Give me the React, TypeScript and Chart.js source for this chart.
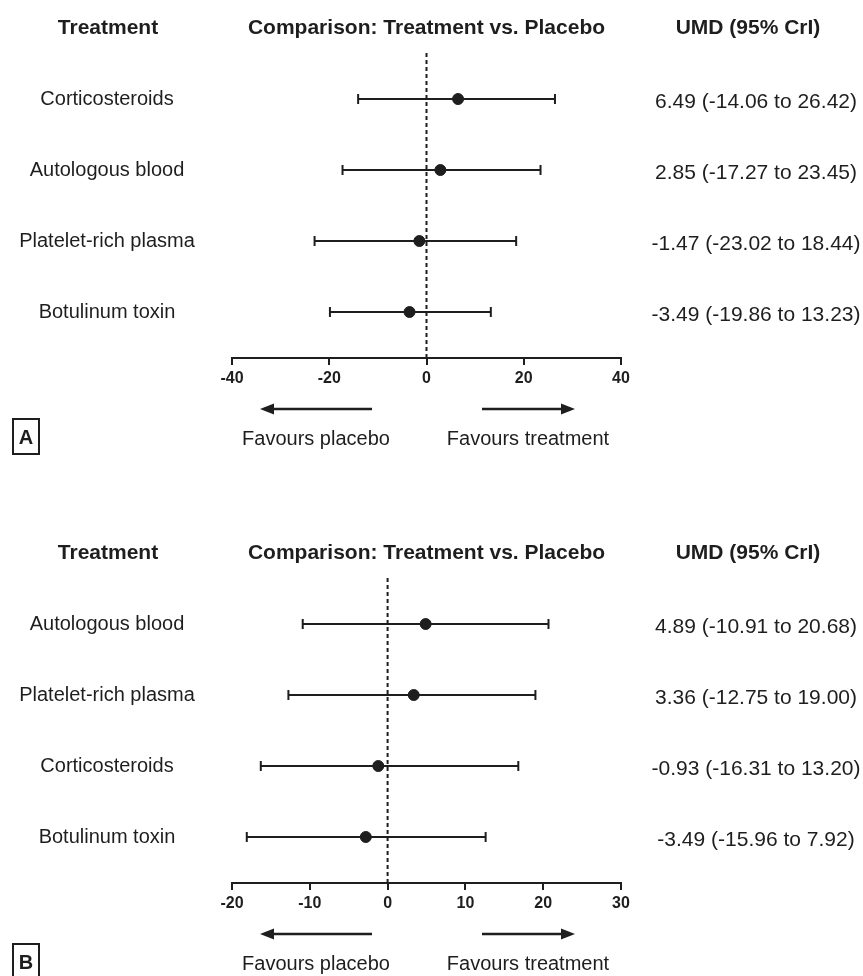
import React, { useEffect, useRef } from 'react';
import { Chart, registerables } from 'chart.js';

Chart.register(...registerables);

// ---------- Data ----------
const treatmentsA = ['Corticosteroids', 'Autologous blood', 'Platelet-rich plasma', 'Botulinum toxin'];
const meanA = [6.49, 2.85, -1.47, -3.49];
const lowA = [-14.06, -17.27, -23.02, -19.86];
const highA = [26.42, 23.45, 18.44, 13.23];
const umdA = ['6.49 (-14.06 to 26.42)', '2.85 (-17.27 to 23.45)', '-1.47 (-23.02 to 18.44)', '-3.49 (-19.86 to 13.23)'];
const ticksA = [-40, -20, 0, 20, 40];

// panel B marks as drawn in the figure
const treatmentsB = ['Autologous blood', 'Platelet-rich plasma', 'Corticosteroids', 'Botulinum toxin'];
const meanB = [4.89, 3.36, -1.2, -2.8];
const lowB = [-10.91, -12.75, -16.3, -18.1];
const highB = [20.68, 19.0, 16.8, 12.6];
const umdB = ['4.89 (-10.91 to 20.68)', '3.36 (-12.75 to 19.00)', '-0.93 (-16.31 to 13.20)', '-3.49 (-15.96 to 7.92)'];
const ticksB = [-20, -10, 0, 10, 20, 30];

const headers = ['Treatment', 'Comparison: Treatment vs. Placebo', 'UMD (95% CrI)'];
const favours = ['Favours placebo', 'Favours treatment'];

// ---------- Style ----------
const INK = '#1e1e1e';
const FAMILY = '"Liberation Sans", Arial, Helvetica, sans-serif';
const Y_PAD = 0.648;
const W = 863;
const H = 525;

const forestText = {
  id: 'forestText',
  afterDraw(chart: any, _args: any, opts: any) {
    const { ctx, chartArea, scales } = chart;
    const ys = scales.y;
    const n = opts.labels.length;
    ctx.save();
    ctx.fillStyle = INK;
    ctx.strokeStyle = INK;
    ctx.textBaseline = 'alphabetic';
    ctx.textAlign = 'center';

    // headers
    ctx.font = `bold 21px ${FAMILY}`;
    ctx.fillText(headers[0], 108, 34);
    ctx.fillText(headers[1], (chartArea.left + chartArea.right) / 2, 34);
    ctx.fillText(headers[2], 748, 34);

    // row labels & UMD text
    for (let i = 0; i < n; i++) {
      const py = ys.getPixelForValue(n - 1 - i);
      ctx.font = `20px ${FAMILY}`;
      ctx.fillText(opts.labels[i], 107, py + 6);
      ctx.font = `21px ${FAMILY}`;
      ctx.fillText(opts.umd[i], 756, py + 9);
    }

    // arrows
    const ay = chartArea.bottom + 51;
    const L = chartArea.left;
    const drawArrow = (x0: number, x1: number) => {
      const dir = Math.sign(x1 - x0);
      const head = 14;
      ctx.lineWidth = 2.5;
      ctx.beginPath();
      ctx.moveTo(x0, ay);
      ctx.lineTo(x1 - dir * head, ay);
      ctx.stroke();
      ctx.beginPath();
      ctx.moveTo(x1, ay);
      ctx.lineTo(x1 - dir * head, ay - 5.5);
      ctx.lineTo(x1 - dir * head, ay + 5.5);
      ctx.closePath();
      ctx.fill();
    };
    drawArrow(L + 140, L + 28);
    drawArrow(L + 250, L + 343);

    ctx.font = `20px ${FAMILY}`;
    ctx.fillText(favours[0], L + 84, chartArea.bottom + 87);
    ctx.fillText(favours[1], L + 296, chartArea.bottom + 87);

    // panel label
    const bx = 13, by = chartArea.bottom + 61, bw = 26, bh = 35;
    ctx.lineWidth = 2;
    ctx.strokeRect(bx, by, bw, bh);
    ctx.font = `bold 20px ${FAMILY}`;
    ctx.fillText(opts.panel, bx + bw / 2, by + bh / 2 + 7);
    ctx.restore();
  },
};

function buildConfig(labels: string[], mean: number[], low: number[], high: number[], umd: string[], ticks: number[], panel: string): any {
  const n = labels.length;
  const datasets: any[] = [];
  datasets.push({
    type: 'scatter',
    data: mean.map((m, i) => ({ x: m, y: n - 1 - i })),
    pointRadius: 5.5,
    pointBackgroundColor: INK,
    pointBorderColor: INK,
    pointBorderWidth: 1,
    order: 0,
  });
  low.forEach((lo, i) => {
    datasets.push({
      type: 'line',
      showLine: true,
      data: [
        { x: lo, y: n - 1 - i },
        { x: high[i], y: n - 1 - i },
      ],
      borderColor: INK,
      borderWidth: 2,
      pointStyle: 'line',
      pointRotation: 90,
      pointRadius: 5,
      pointBorderWidth: 2,
      pointBorderColor: INK,
      order: 1,
    });
  });
  datasets.push({
    type: 'line',
    showLine: true,
    data: [
      { x: 0, y: -Y_PAD },
      { x: 0, y: n - 1 + Y_PAD },
    ],
    borderColor: INK,
    borderWidth: 2,
    borderDash: [4, 3],
    pointRadius: 0,
    order: 2,
  });

  return {
    type: 'scatter',
    data: { datasets },
    plugins: [forestText],
    options: {
      responsive: false,
      animation: false,
      events: [],
      layout: { padding: { left: 232, right: W - 621, top: 53, bottom: H - 358 - 30 } },
      plugins: {
        legend: { display: false },
        tooltip: { enabled: false },
        forestText: { labels, umd, panel },
      },
      scales: {
        x: {
          type: 'linear',
          min: ticks[0],
          max: ticks[ticks.length - 1],
          afterBuildTicks: (s: any) => {
            s.ticks = ticks.map((v) => ({ value: v }));
          },
          afterFit: (s: any) => {
            s.height = 30;
          },
          grid: { drawOnChartArea: false, drawTicks: true, tickLength: 7, color: INK, lineWidth: 2 },
          border: { display: true, color: INK, width: 2 },
          ticks: {
            color: INK,
            font: { family: FAMILY, size: 16, weight: 'bold' },
            padding: 4,
            maxRotation: 0,
            autoSkip: false,
            callback: (v: any) => String(v),
          },
        },
        y: { type: 'linear', display: false, min: -Y_PAD, max: n - 1 + Y_PAD },
      },
    },
  };
}

function Panel({ top, cfg }: { top: number; cfg: () => any }) {
  const ref = useRef<HTMLCanvasElement>(null);
  useEffect(() => {
    if (!ref.current) return;
    const chart = new Chart(ref.current, cfg());
    return () => chart.destroy();
  }, []);
  return (
    <canvas
      ref={ref}
      width={W}
      height={H}
      style={{ position: 'absolute', left: 0, top, width: W, height: H }}
    />
  );
}

export default function App() {
  return (
    <div
      style={{
        position: 'absolute',
        left: 0,
        top: 0,
        width: W,
        height: 976,
        overflow: 'hidden',
        background: '#ffffff',
      }}
    >
      <Panel top={0} cfg={() => buildConfig(treatmentsA, meanA, lowA, highA, umdA, ticksA, 'A')} />
      <Panel top={525} cfg={() => buildConfig(treatmentsB, meanB, lowB, highB, umdB, ticksB, 'B')} />
    </div>
  );
}
